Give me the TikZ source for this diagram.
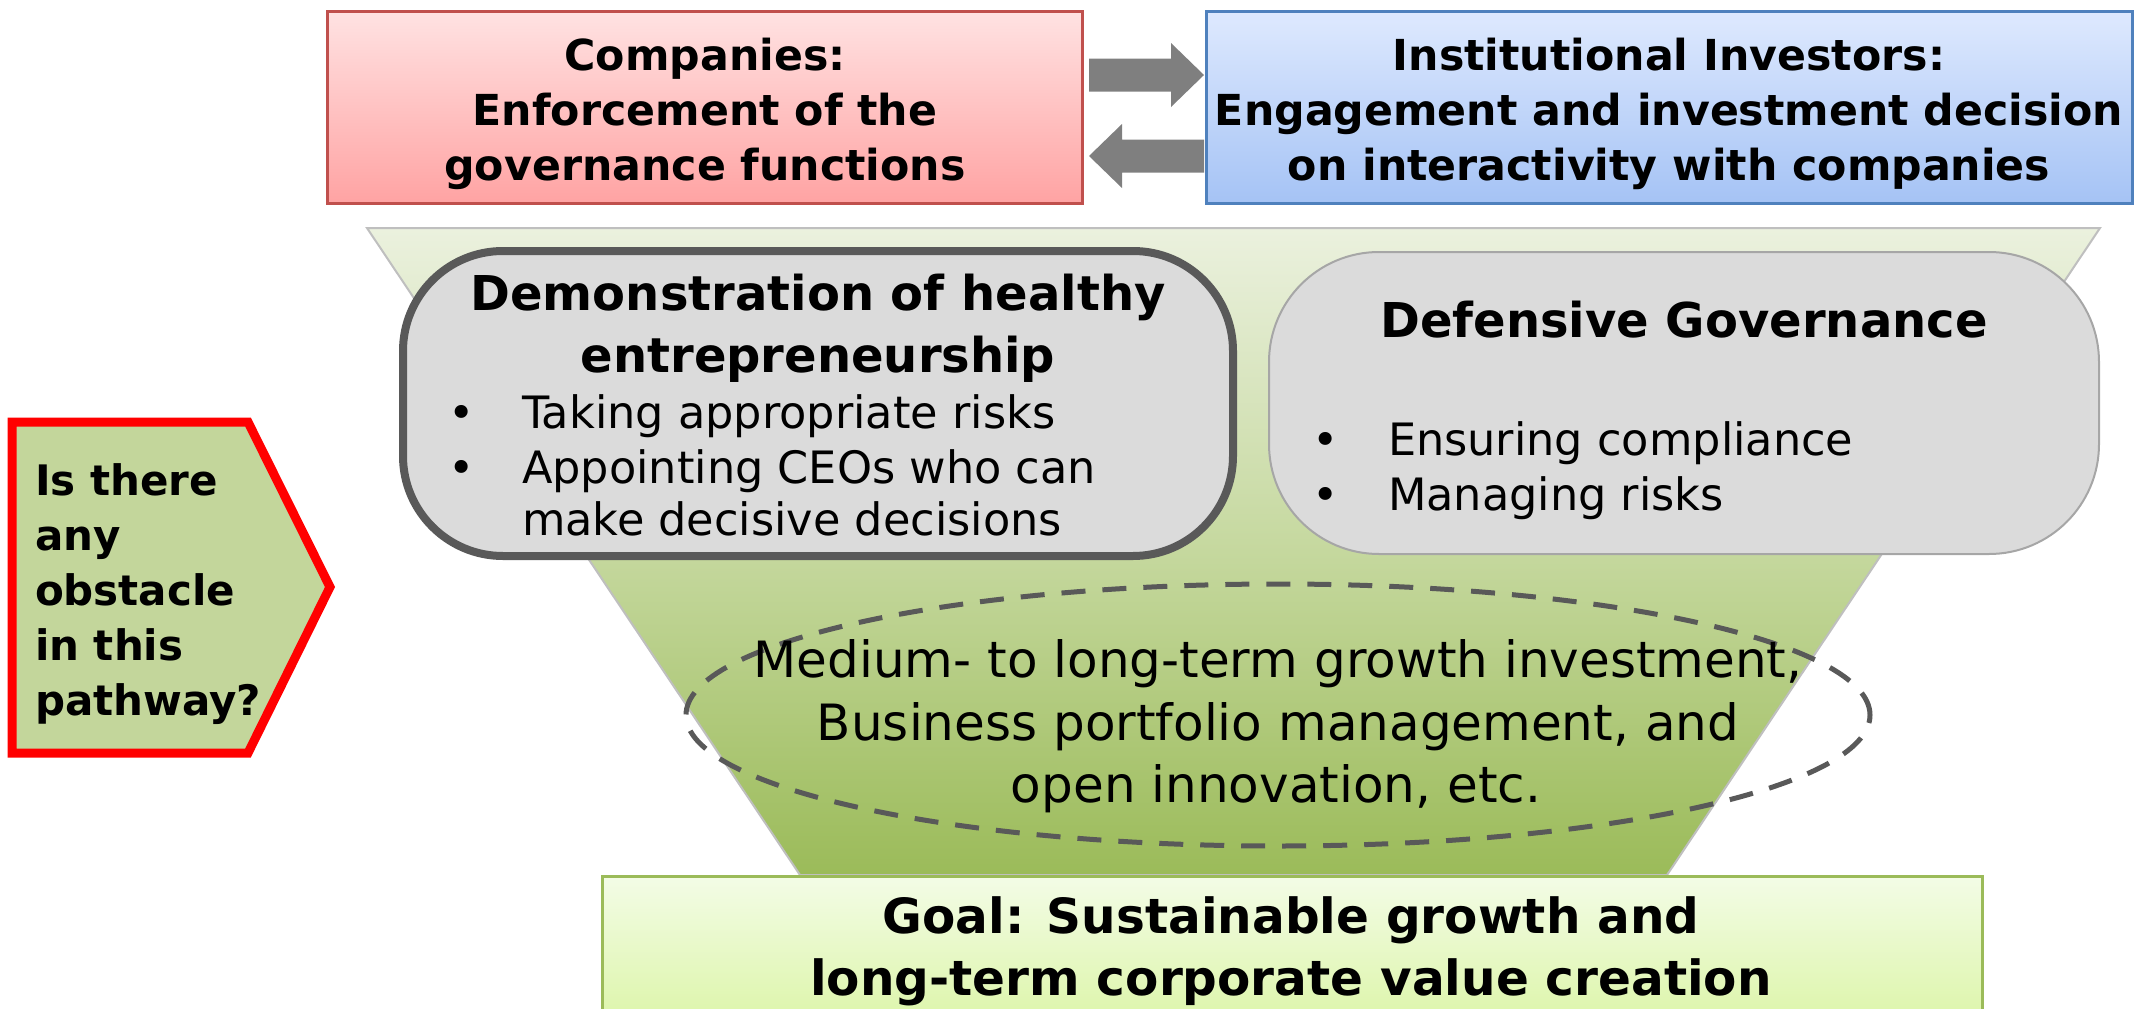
\documentclass[tikz,border=0pt]{standalone}
\usepackage{fontspec}
\setmainfont{DejaVu Sans}
\usetikzlibrary{shapes.geometric,calc}
\definecolor{compTop}{HTML}{FFE2E2}
\definecolor{compBot}{HTML}{FFA3A3}
\definecolor{compLine}{HTML}{C0504D}
\definecolor{invTop}{HTML}{DEE9FE}
\definecolor{invBot}{HTML}{A5C3F5}
\definecolor{invLine}{HTML}{4F81BD}
\definecolor{funTop}{HTML}{EBF1DE}
\definecolor{funMid}{HTML}{C5D89E}
\definecolor{funBot}{HTML}{9BBB59}
\definecolor{funLine}{HTML}{BFBFBF}
\definecolor{boxFill}{HTML}{DBDBDB}
\definecolor{darkLine}{HTML}{595959}
\definecolor{lightLine}{HTML}{A6A6A6}
\definecolor{hexFill}{HTML}{C3D69B}
\definecolor{goalTop}{HTML}{F3FCE6}
\definecolor{goalBot}{HTML}{DCF5A8}
\definecolor{goalLine}{HTML}{9BBB59}
\definecolor{arrowGray}{HTML}{7F7F7F}
\begin{document}
\begin{tikzpicture}[x=1pt,y=-1pt,
  every node/.style={inner sep=0pt, outer sep=0pt},
  compbox/.style={rectangle, draw=compLine, line width=3pt, top color=compTop, bottom color=compBot},
  invbox/.style={rectangle, draw=invLine, line width=3pt, top color=invTop, bottom color=invBot},
  demobox/.style={rectangle, rounded corners=100pt, draw=darkLine, line width=8pt, fill=boxFill},
  defbox/.style={rectangle, rounded corners=110pt, draw=lightLine, line width=2pt, fill=boxFill},
  goalbox/.style={rectangle, draw=goalLine, line width=3pt, top color=goalTop, bottom color=goalBot},
  oval/.style={ellipse, draw=darkLine, line width=5pt, dash pattern=on 24pt off 17pt},
  barrow/.style={fill=arrowGray},
  topfont/.style={font=\fontsize{42.7pt}{50pt}\selectfont\bfseries, anchor=base},
  headfont/.style={font=\fontsize{48pt}{56pt}\selectfont\bfseries, anchor=base},
  bulfont/.style={font=\fontsize{44.6pt}{52pt}\selectfont, anchor=base west},
  bulmark/.style={font=\fontsize{44.6pt}{52pt}\selectfont, anchor=base},
  ovalfont/.style={font=\fontsize{50pt}{58pt}\selectfont, anchor=base},
  goalfont/.style={font=\fontsize{48.5pt}{56pt}\selectfont\bfseries, anchor=base},
  hexfont/.style={font=\fontsize{42pt}{50pt}\selectfont\bfseries, anchor=base west}
]
\path[use as bounding box] (0,0) rectangle (2147,1009);

% funnel
\coordinate (ftl) at (367,228);
\coordinate (ftr) at (2100,228);
\coordinate (fbr) at (1667,875);
\coordinate (fbl) at (800,875);
\path[draw=funLine, line width=2pt, top color=funTop, bottom color=funBot, middle color=funMid]
  (ftl) -- (ftr) -- (fbr) -- (fbl) -- cycle;

% top boxes
\node[compbox, minimum width=755pt, minimum height=192pt] (comp) at (705,107.5) {};
\node[invbox, minimum width=926pt, minimum height=192pt] (inv) at (1669,107.5) {};

% block arrows (companies -> investors, investors -> companies)
\coordinate (a1s) at ([xshift=6.5pt,yshift=32.5pt]comp.east);
\coordinate (a1e) at ([xshift=-2pt,yshift=32.5pt]inv.west);
\coordinate (a2s) at ([xshift=-2pt,yshift=-48.5pt]inv.west);
\coordinate (a2e) at ([xshift=6.5pt,yshift=-48.5pt]comp.east);
\path[barrow] ($(a1s)+(0,-16.5)$) -- ($(a1e)+(-33,-16.5)$) -- ($(a1e)+(-33,-32)$) -- (a1e)
  -- ($(a1e)+(-33,32)$) -- ($(a1e)+(-33,16.5)$) -- ($(a1s)+(0,16.5)$) -- cycle;
\path[barrow] ($(a2s)+(0,-16.5)$) -- ($(a2e)+(33,-16.5)$) -- ($(a2e)+(33,-32)$) -- (a2e)
  -- ($(a2e)+(33,32)$) -- ($(a2e)+(33,16.5)$) -- ($(a2s)+(0,16.5)$) -- cycle;

% gray rounded boxes
\node[demobox, minimum width=830pt, minimum height=305pt] (demo) at (818,403.5) {};
\node[defbox, minimum width=830pt, minimum height=302pt] (def) at (1684,403) {};

% dashed ellipse
\node[oval, minimum width=1184pt, minimum height=262pt] (ov) at (1278,715) {};

% goal box
\node[goalbox, anchor=north west, minimum width=1380pt, minimum height=150pt] (goal) at (602,876) {};

% obstacle pentagon
\path[draw=red, line width=9pt, fill=hexFill, line join=miter]
  (12,422) -- (248,422) -- (330,587) -- (248,753) -- (12,753) -- cycle;

% texts: top boxes
\node[topfont] (c1) at (705,70) {Companies:};
\node[topfont] (c2) at (705,125) {Enforcement of the};
\node[topfont] (c3) at (705,180) {governance functions};
\node[topfont] (i1) at (1669,70) {Institutional Investors:};
\node[topfont] (i2) at (1669,125) {Engagement and investment decision};
\node[topfont] (i3) at (1669,180) {on interactivity with companies};

% demonstration box text
\node[headfont] (d1) at (818,310) {Demonstration of healthy};
\node[headfont] (d2) at (818,372) {entrepreneurship};
\node[bulmark] (db1) at (462,428) {•};
\node[bulfont] (dt1) at (522,428) {Taking appropriate risks};
\node[bulmark] (db2) at (462,483) {•};
\node[bulfont] (dt2) at (522,483) {Appointing CEOs who can};
\node[bulfont] (dt3) at (522,535) {make decisive decisions};

% defensive box text
\node[headfont] (g1) at (1684,337) {Defensive Governance};
\node[bulmark] (gb1) at (1326,455) {•};
\node[bulfont] (gt1) at (1388,455) {Ensuring compliance};
\node[bulmark] (gb2) at (1326,510) {•};
\node[bulfont] (gt2) at (1388,510) {Managing risks};

% ellipse text
\node[ovalfont] (o1) at (1278,677) {Medium- to long-term growth investment,};
\node[ovalfont] (o2) at (1278,740) {Business portfolio management, and};
\node[ovalfont] (o3) at (1276,802) {open innovation, etc.};

% goal text
\node[goalfont] (gl1) at (1291,933) {Goal: Sustainable growth and};
\node[goalfont] (gl2) at (1291,995) {long-term corporate value creation};

% pentagon text
\node[hexfont] (h1) at (35,495) {Is there};
\node[hexfont] (h2) at (35,550) {any};
\node[hexfont] (h3) at (35,605) {obstacle};
\node[hexfont] (h4) at (35,660) {in this};
\node[hexfont] (h5) at (35,715) {pathway?};
\end{tikzpicture}
\end{document}
